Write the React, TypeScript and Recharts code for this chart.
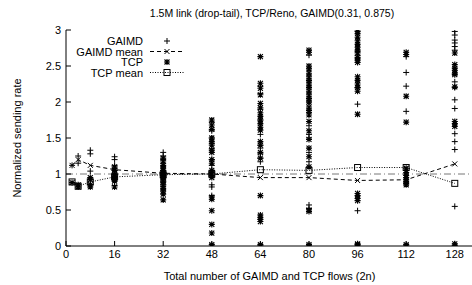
import { ScatterChart, Scatter, XAxis, YAxis, ReferenceLine } from "recharts";

const flowCounts = [2, 4, 8, 16, 32, 48, 64, 80, 96, 112, 128];
const xTicks = [0, 16, 32, 48, 64, 80, 96, 112, 128];
const yTicks = [0, 0.5, 1, 1.5, 2, 2.5, 3];

// one list of per-flow rates for each flow count above
const gaimdRates = [
  [1.12],
  [1.25, 1.15],
  [1.33, 1.28, 1.04, 0.85],
  [1.24, 1.2, 1.12, 1.08, 1.05, 1.0, 0.95, 0.84],
  [1.3, 1.25, 1.2, 1.15, 1.1, 1.05, 1.02, 1.0, 0.98, 0.95, 0.92, 0.9, 0.88, 0.85, 0.83, 0.78],
  [1.72, 1.6, 1.5, 1.42, 1.35, 1.2, 1.12, 1.05, 1.02, 1.0, 0.98, 0.85, 0.82, 0.7],
  [2.22, 2.12, 1.9, 1.75, 1.55, 1.4, 1.36, 1.28, 1.22, 1.17, 0.0],
  [2.65, 2.3, 2.0, 1.85, 1.67, 1.55, 1.5, 1.3, 1.17, 0.57, 0.52, 0.0],
  [2.98, 2.7, 2.65, 2.6, 2.2, 1.97, 0.49, 0.0],
  [2.63, 2.41, 2.22, 1.87, 0.0],
  [2.98, 2.93, 2.86, 2.82, 2.77, 2.72, 2.28, 2.2, 2.03, 1.91, 1.56, 1.45, 1.34, 0.55, 0.0],
];

const tcpRates = [
  [0.88],
  [0.85, 0.82],
  [0.95, 0.92, 0.85, 0.82],
  [1.1, 1.05, 1.0, 0.97, 0.94, 0.92, 0.9, 0.82],
  [1.22, 1.18, 1.12, 1.08, 1.05, 1.02, 1.0, 0.98, 0.96, 0.94, 0.9, 0.85, 0.8, 0.76, 0.72, 0.64],
  [1.75, 1.68, 1.62, 1.5, 1.45, 1.4, 1.33, 1.3, 1.2, 1.15, 1.05, 1.0, 0.95, 0.68, 0.65, 0.49, 0.3, 0.18, 0.02, 0.0],
  [2.63, 2.26, 2.19, 2.1, 1.98, 1.92, 1.85, 1.8, 1.75, 1.7, 1.65, 1.61, 1.45, 1.4, 1.3, 1.22, 0.7, 0.43, 0.4, 0.37, 0.34, 0.02, 0.0],
  [2.72, 2.69, 2.5, 2.46, 2.4, 2.35, 2.3, 2.25, 2.2, 2.15, 2.1, 2.05, 2.0, 1.93, 1.88, 1.82, 1.73, 1.6, 1.48, 1.36, 1.24, 1.1, 0.5, 0.48, 0.02, 0.0],
  [3.0, 2.95, 2.9, 2.85, 2.8, 2.76, 2.72, 2.68, 2.62, 2.58, 2.55, 2.35, 2.3, 2.25, 2.2, 2.15, 1.83, 0.73, 0.7, 0.66, 0.63, 0.03, 0.02, 0.0],
  [2.69, 2.66, 2.08, 1.72, 1.08, 1.02, 0.98, 0.95, 0.92, 0.9, 0.87, 0.85, 0.02, 0.0],
  [2.68, 2.52, 2.47, 2.44, 2.4, 2.38, 2.21, 1.73, 1.7, 1.66, 0.03, 0.0],
];

const gaimdMean = [1.12, 1.2, 1.12, 1.06, 1.01, 1.0, 0.95, 0.95, 0.91, 0.92, 1.14];
const tcpMean = [0.89, 0.83, 0.89, 0.96, 0.99, 1.0, 1.06, 1.05, 1.09, 1.09, 0.87];

const toPoints = (rates: number[][]) =>
  flowCounts.flatMap((n, i) => rates[i].map((y) => ({ x: n, y })));
const toLine = (vals: number[]) => flowCounts.map((n, i) => ({ x: n, y: vals[i] }));

const FONT = "'Liberation Sans', Arial, sans-serif";

const plus = (cx: number, cy: number) => `M${cx - 3},${cy}h6M${cx},${cy - 3}v6`;
const cross = (cx: number, cy: number) =>
  `M${cx - 2.5},${cy - 2.5}l5,5M${cx + 2.5},${cy - 2.5}l-5,5`;

const PlusMark = (p: any) => <path d={plus(p.cx, p.cy)} stroke="#000" strokeWidth={1} fill="none" />;
const CrossMark = (p: any) => <path d={cross(p.cx, p.cy)} stroke="#000" strokeWidth={1} fill="none" />;
const StarMark = (p: any) => (
  <path
    d={`M${p.cx - 3},${p.cy}h6M${p.cx},${p.cy - 3}v6` + cross(p.cx, p.cy)}
    stroke="#000"
    strokeWidth={1.1}
    fill="none"
  />
);
const SquareMark = (p: any) => (
  <rect x={p.cx - 3} y={p.cy - 3} width={6} height={6} stroke="#000" strokeWidth={1} fill="none" />
);

function LegendBox() {
  const rows = [
    { label: "GAIMD", y: 41, dash: null, mark: "plus" },
    { label: "GAIMD mean", y: 51.5, dash: "4 3", mark: "cross" },
    { label: "TCP", y: 62, dash: null, mark: "star" },
    { label: "TCP mean", y: 72.5, dash: "1 1.5", mark: "square" },
  ];
  return (
    <svg width={472} height={285} style={{ position: "absolute", left: 0, top: 0, pointerEvents: "none" }}>
      <text x={272} y={13} textAnchor="middle" dominantBaseline="central" fontSize={10.5} fontFamily={FONT}>
        1.5M link (drop-tail), TCP/Reno, GAIMD(0.31, 0.875)
      </text>
      <text
        x={17}
        y={138}
        textAnchor="middle"
        dominantBaseline="central"
        fontSize={11}
        fontFamily={FONT}
        transform="rotate(-90 17 138)"
      >
        Normalized sending rate
      </text>
      {rows.map((r) => (
        <g key={r.label}>
          <text x={143} y={r.y} textAnchor="end" dominantBaseline="central" fontSize={11} fontFamily={FONT}>
            {r.label}
          </text>
          {r.dash && <line x1={150} x2={185} y1={r.y} y2={r.y} stroke="#000" strokeDasharray={r.dash} />}
          {r.mark === "plus" && <PlusMark cx={167} cy={r.y} />}
          {r.mark === "cross" && <CrossMark cx={167} cy={r.y} />}
          {r.mark === "star" && <StarMark cx={167} cy={r.y} />}
          {r.mark === "square" && <SquareMark cx={167} cy={r.y} />}
        </g>
      ))}
    </svg>
  );
}

export default function App() {
  const tickStyle = { fill: "#000", fontSize: 11, fontFamily: FONT };
  return (
    <div style={{ position: "absolute", left: 0, top: 0, width: 472, height: 285, overflow: "hidden", background: "#fff" }}>
      <ScatterChart width={480} height={285} margin={{ top: 30, right: 7, bottom: 0, left: 0 }}>
        <XAxis
          xAxisId="main"
          dataKey="x"
          type="number"
          domain={[0, 134]}
          ticks={xTicks}
          allowDataOverflow
          height={39}
          tickSize={-5}
          tickMargin={9}
          tick={tickStyle}
          stroke="#000"
          label={{ value: "Total number of GAIMD and TCP flows (2n)", position: "insideBottom", offset: 5, fill: "#000", fontSize: 11, fontFamily: FONT }}
        />
        <XAxis
          xAxisId="top"
          orientation="top"
          dataKey="x"
          type="number"
          domain={[0, 134]}
          ticks={xTicks}
          allowDataOverflow
          height={0}
          tickSize={-5}
          tickFormatter={() => ""}
          stroke="#000"
        />
        <YAxis
          dataKey="y"
          type="number"
          domain={[0, 3]}
          ticks={yTicks}
          allowDataOverflow
          width={66}
          tickSize={-5}
          tickMargin={10}
          tick={tickStyle}
          stroke="#000"
        />
        <ReferenceLine xAxisId="main" y={1} stroke="#777" strokeDasharray="7 3 1 3" />
        <Scatter xAxisId="main" data={toPoints(gaimdRates)} shape={PlusMark} isAnimationActive={false} />
        <Scatter xAxisId="main" data={toPoints(tcpRates)} shape={StarMark} isAnimationActive={false} />
        <Scatter
          xAxisId="main"
          data={toLine(gaimdMean)}
          shape={CrossMark}
          line={{ stroke: "#000", strokeDasharray: "4 3", strokeWidth: 1 }}
          lineType="joint"
          isAnimationActive={false}
        />
        <Scatter
          xAxisId="main"
          data={toLine(tcpMean)}
          shape={SquareMark}
          line={{ stroke: "#000", strokeDasharray: "1 1.5", strokeWidth: 1 }}
          lineType="joint"
          isAnimationActive={false}
        />
      </ScatterChart>
      <LegendBox />
    </div>
  );
}
